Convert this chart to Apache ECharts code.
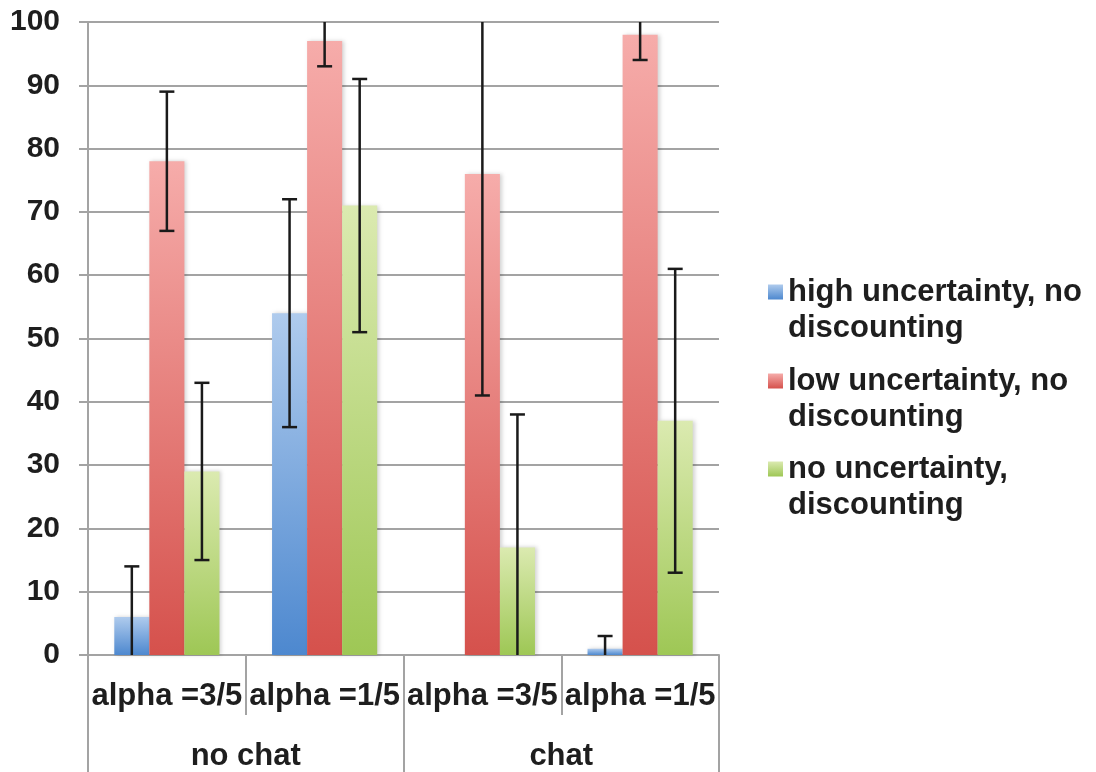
<!DOCTYPE html>
<html><head><meta charset="utf-8">
<script src="https://cdn.jsdelivr.net/npm/echarts@6/dist/echarts.min.js"></script>
<style>html,body{margin:0;padding:0;background:#fff}#c{width:1096px;height:772px}</style>
</head><body><div id="c"></div>
<script>
// ---- data ----
const categories = ['alpha =3/5', 'alpha =1/5', 'alpha =3/5', 'alpha =1/5'];
const groups = ['no chat', 'chat'];
const seriesNames = ['high uncertainty, no discounting', 'low uncertainty, no discounting', 'no uncertainty, discounting'];
const legendLines = [['high uncertainty, no', 'discounting'], ['low uncertainty, no', 'discounting'], ['no uncertainty,', 'discounting']];

const highUnc = [6, 54, 0, 1];
const highUncLow = [-2, 36, null, -1];
const highUncHigh = [14, 72, null, 3];

const lowUnc = [78, 97, 76, 98];
const lowUncLow = [67, 93, 41, 94];
const lowUncHigh = [89, 101, 111, 102];

const noUnc = [29, 71, 17, 37];
const noUncLow = [15, 51, -4, 13];
const noUncHigh = [43, 91, 38, 61];

const yMin = 0, yMax = 100, yStep = 10;

// ---- styling ----
const FONT = "'Liberation Sans', Arial, Helvetica, sans-serif";
const TXT = '#1e1e1e';
const GRID = '#a3a3a3';
const gradients = [
  ['#afcbed', '#4d88cf'],
  ['#f6acaa', '#d5514c'],
  ['#dbeab0', '#9ec755']
];
const catGap = 1 / 3;

function grad(c) {
  return new echarts.graphic.LinearGradient(0, 0, 0, 1, [{offset: 0, color: c[0]}, {offset: 1, color: c[1]}]);
}

const values = [highUnc, lowUnc, noUnc];
const lows = [highUncLow, lowUncLow, noUncLow];
const highs = [highUncHigh, lowUncHigh, noUncHigh];

const series = [];
values.forEach((v, i) => {
  series.push({
    name: seriesNames[i], type: 'bar', data: v,
    barCategoryGap: (catGap * 100) + '%', barGap: '0%',
    itemStyle: {color: grad(gradients[i]), shadowBlur: 4, shadowColor: 'rgba(0,0,0,0.18)', shadowOffsetX: 2, shadowOffsetY: 0},
    emphasis: {disabled: true}
  });
});
values.forEach((v, i) => {
  const d = [];
  lows[i].forEach((lo, k) => { if (lo !== null) d.push([k, lo, highs[i][k]]); });
  series.push({
    name: seriesNames[i], type: 'custom', z: 10, data: d,
    renderItem: function (params, api) {
      const xi = api.value(0), lo = api.value(1), hi = api.value(2);
      const band = api.size([1, 0])[0];
      const bw = band * (1 - catGap) / 3;
      const off = (i - 1) * bw;
      const loC = Math.max(lo, yMin), hiC = Math.min(hi, yMax);
      const pLo = api.coord([xi, loC]), pHi = api.coord([xi, hiC]);
      const x = pLo[0] + off;
      const st = {stroke: '#1a1a1a', lineWidth: 2.5};
      const cap = 7.5;
      const ch = [{type: 'line', shape: {x1: x, y1: pLo[1], x2: x, y2: pHi[1]}, style: st}];
      if (lo >= yMin) ch.push({type: 'line', shape: {x1: x - cap, y1: pLo[1], x2: x + cap, y2: pLo[1]}, style: st});
      if (hi <= yMax) ch.push({type: 'line', shape: {x1: x - cap, y1: pHi[1], x2: x + cap, y2: pHi[1]}, style: st});
      return {type: 'group', children: ch};
    }
  });
});

const legendCenters = [292, 381, 469];
const LH = 36;

const option = {
  animation: false,
  textStyle: {fontFamily: FONT},
  grid: {left: 88, right: 377, top: 22, bottom: 115, containLabel: false},
  legend: seriesNames.map((n, i) => ({
    data: [n], orient: 'vertical', left: 768, top: legendCenters[i] - LH * 1.5,
    padding: 0, itemWidth: 15, itemHeight: 15, icon: 'rect', selectedMode: false,
    formatter: () => '\n' + legendLines[i].join('\n'),
    textStyle: {fontSize: 31, fontWeight: 'bold', color: TXT, lineHeight: LH, fontFamily: FONT}
  })),
  xAxis: [
    {
      type: 'category', data: categories, position: 'bottom',
      axisLine: {show: true, lineStyle: {color: GRID, width: 2}},
      axisTick: {show: true, interval: 0, length: 60, alignWithLabel: false, lineStyle: {color: GRID, width: 2}},
      axisLabel: {interval: 0, margin: 26, fontSize: 31, fontWeight: 'bold', color: TXT, fontFamily: FONT},
      splitLine: {show: false}
    },
    {
      type: 'category', data: groups, position: 'bottom', offset: 0,
      axisLine: {show: false},
      axisTick: {show: true, interval: 0, length: 120, alignWithLabel: false, lineStyle: {color: GRID, width: 2}},
      axisLabel: {interval: 0, margin: 86, fontSize: 31, fontWeight: 'bold', color: TXT, fontFamily: FONT},
      splitLine: {show: false}
    }
  ],
  yAxis: {
    type: 'value', min: yMin, max: yMax, interval: yStep,
    axisLine: {show: true, lineStyle: {color: GRID, width: 2}},
    axisTick: {show: true, length: 9, lineStyle: {color: GRID, width: 2}},
    splitLine: {show: true, lineStyle: {color: GRID, width: 2}},
    axisLabel: {margin: 28, fontSize: 30, fontWeight: 'bold', color: TXT, fontFamily: FONT}
  },
  series: series
};

const chart = echarts.init(document.getElementById('c'), null, {renderer: 'canvas'});
chart.setOption(option);
</script>
</body></html>
